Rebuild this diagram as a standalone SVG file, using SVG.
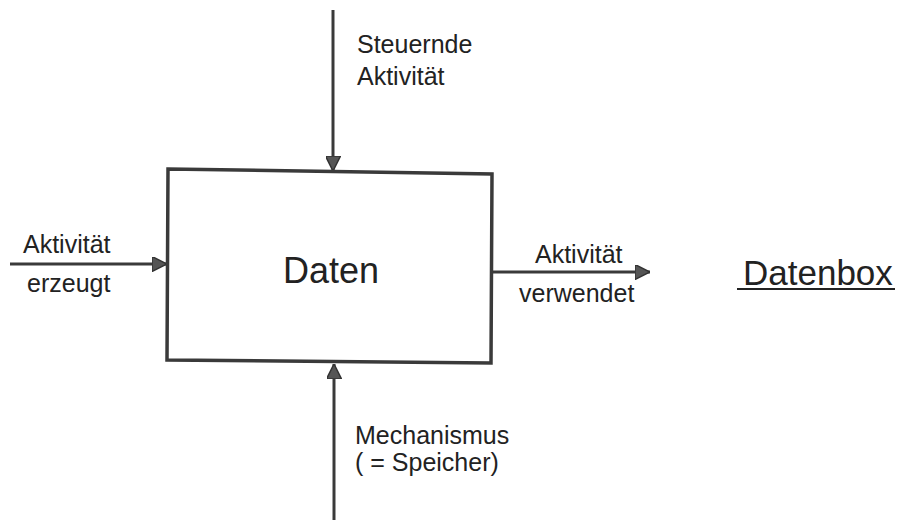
<svg xmlns="http://www.w3.org/2000/svg" width="904" height="522" viewBox="0 0 904 522">
  <style>
    .lbl { font-family: "Liberation Sans", Arial, sans-serif; font-size: 25px; fill: #222; }
    .big { font-family: "Liberation Sans", Arial, sans-serif; font-size: 36px; fill: #222; }
    .edge { stroke: #3a3a3a; stroke-width: 3; fill: none; }
  </style>
  <defs>
    <marker id="head" viewBox="0 0 10 10" refX="10" refY="5" markerWidth="5" markerHeight="5" orient="auto">
      <path d="M0,0 L10,5 L0,10 Z" fill="#555" stroke="#333" stroke-width="1"/>
    </marker>
  </defs>
  <rect width="904" height="522" fill="#fff"/>

  <g id="connectors">
    <line class="edge" x1="333" y1="10" x2="333" y2="171" marker-end="url(#head)"/>
    <line class="edge" x1="10" y1="264" x2="167" y2="264" marker-end="url(#head)"/>
    <line class="edge" x1="492" y1="272" x2="650" y2="272" marker-end="url(#head)"/>
    <line class="edge" x1="334" y1="520" x2="334" y2="364" marker-end="url(#head)"/>
  </g>

  <g id="box">
    <path d="M168,169 L492,174 L491,363 L167,360 Z" stroke="#3a3a3a" stroke-width="3.5" fill="none"/>
    <text class="big" x="283" y="283">Daten</text>
  </g>

  <g id="label-top">
    <text class="lbl" x="357" y="53">Steuernde</text>
    <text class="lbl" x="357" y="85">Aktivität</text>
  </g>
  <g id="label-left">
    <text class="lbl" x="23" y="253">Aktivität</text>
    <text class="lbl" x="27" y="292">erzeugt</text>
  </g>
  <g id="label-right">
    <text class="lbl" x="535" y="263">Aktivität</text>
    <text class="lbl" x="519" y="302">verwendet</text>
  </g>
  <g id="label-bottom">
    <text class="lbl" x="355" y="444">Mechanismus</text>
    <text class="lbl" x="355" y="471">( = Speicher)</text>
  </g>
  <g id="title">
    <text class="big" x="743" y="285" style="font-size:35px">Datenbox</text>
    <line x1="737" y1="289" x2="895" y2="289" stroke="#222" stroke-width="2"/>
  </g>
</svg>
